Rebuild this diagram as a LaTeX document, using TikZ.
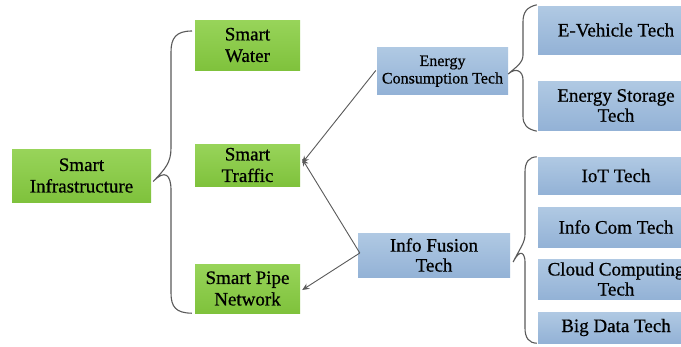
\documentclass[tikz,border=0pt]{standalone}
\usepackage{fontspec}
\setmainfont{Liberation Serif}
\newfontfamily\diagfont[FakeBold=0.6]{Liberation Serif}
\usetikzlibrary{arrows.meta}
\definecolor{gtop}{HTML}{98D45A}
\definecolor{gbot}{HTML}{7FC23C}
\definecolor{btop}{HTML}{B0C9E3}
\definecolor{bbot}{HTML}{93B2D6}
\definecolor{lnc}{HTML}{5A5A5A}
\tikzset{
  gbox/.style={shading=axis,top color=gtop,bottom color=gbot,draw=none,
    inner sep=0pt,align=center,font=\diagfont\fontsize{19}{21.5}\selectfont},
  bbox/.style={shading=axis,top color=btop,bottom color=bbot,draw=none,
    inner sep=0pt,align=center,font=\diagfont\fontsize{19}{20}\selectfont},
  brace/.style={draw=lnc,line width=1.1pt},
  arr/.style={draw=lnc,line width=0.9pt,-{Stealth[length=7pt,width=6pt]}},
}
\begin{document}
\begin{tikzpicture}[x=1pt,y=-1pt]
\useasboundingbox (0,0) rectangle (681,346);
\clip (0,0) rectangle (681,346);
\fill[white] (0,0) rectangle (681,346);
% green
\node[gbox,minimum width=139pt,minimum height=53pt] (inf) at (81.5,175.5) {Smart\\Infrastructure};
\node[gbox,minimum width=105pt,minimum height=50pt] (sw) at (247.5,45) {Smart\\Water};
\node[gbox,minimum width=105pt,minimum height=42pt] (st) at (247.5,165) {Smart\\Traffic};
\node[gbox,minimum width=105pt,minimum height=49pt] (sp) at (247.5,288.5) {Smart Pipe\\Network};
% blue
\node[bbox,minimum width=131pt,minimum height=47pt,text depth=2pt,font=\diagfont\fontsize{16}{17.5}\selectfont] (ec) at (442.5,70.5) {Energy\\Consumption Tech};
\node[bbox,minimum width=156pt,minimum height=48pt] (ev) at (616,30) {E-Vehicle Tech};
\node[bbox,minimum width=156pt,minimum height=49pt] (es) at (616,105.5) {Energy Storage\\Tech};
\node[bbox,minimum width=152pt,minimum height=44pt] (if) at (434,255) {Info Fusion\\Tech};
\node[bbox,minimum width=156pt,minimum height=37pt] (iot) at (616,175.5) {IoT Tech};
\node[bbox,minimum width=156pt,minimum height=40pt] (ic) at (616,227) {Info Com Tech};
\node[bbox,minimum width=156pt,minimum height=40pt] (cc) at (616,279) {Cloud Computing\\Tech};
\node[bbox,minimum width=156pt,minimum height=31pt] (bd) at (616,327.5) {Big Data Tech};
% brace 1
\coordinate (t1) at ([xshift=2pt,yshift=-6pt]inf.east);
\coordinate (a1) at (192,31);
\coordinate (b1) at ([xshift=-3pt]sp.south west);
\draw[brace] (a1) .. controls (176,31) and (171,38) .. (171,52) -- (171,148)
  .. controls (171,163) and (165,169) .. (t1)
  .. controls (165,169) and (171,175) .. (171,190) -- (171,293)
  .. controls (171,307) and (176,313) .. (b1);
% brace 2
\coordinate (t2) at ([yshift=-3.5pt]ec.east);
\coordinate (a2) at ([xshift=-1pt,yshift=1pt]ev.north west);
\coordinate (b2) at ([xshift=-1pt,yshift=-1pt]es.south west);
\draw[brace] (a2) .. controls (527,7) and (523,12) .. (523,22) -- (523,55)
  .. controls (523,63) and (516,67) .. (t2)
  .. controls (516,67) and (523,71) .. (523,80) -- (523,116)
  .. controls (523,125) and (527,129) .. (b2);
% brace 3
\coordinate (t3) at ([xshift=3pt,yshift=-7pt]if.east);
\coordinate (a3) at ([xshift=-1pt]iot.north west);
\coordinate (b3) at ([xshift=-1pt]bd.south west);
\draw[brace] (a3) .. controls (529,157) and (525,162) .. (525,172) -- (525,234)
  .. controls (525,243) and (520,248) .. (t3)
  .. controls (520,248) and (525,253) .. (525,262) -- (525,328)
  .. controls (525,338) and (529,343) .. (b3);
% arrows
\coordinate (e0) at ([xshift=-1pt]ec.west);
\coordinate (f0) at ([xshift=2pt,yshift=2pt]if.west);
\draw[arr] (e0) -- ([xshift=2pt,yshift=2pt]st.east);
\draw[arr] (f0) -- ([xshift=2pt,yshift=6pt]st.east);
\draw[arr] (f0) -- ([xshift=2pt,yshift=-1.5pt]sp.east);
\end{tikzpicture}
\end{document}
